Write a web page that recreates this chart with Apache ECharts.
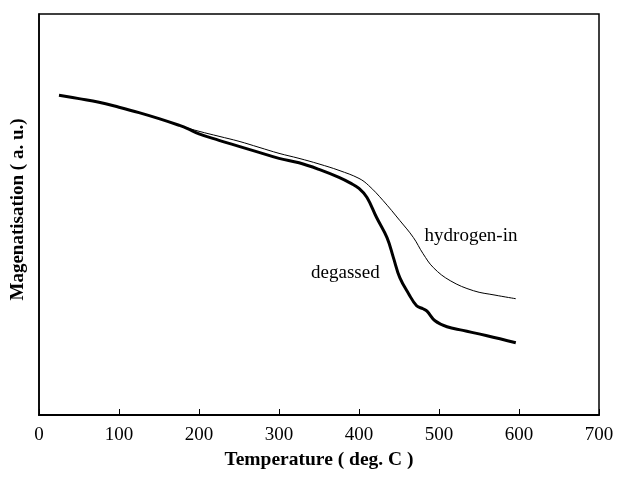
<!DOCTYPE html>
<html>
<head>
<meta charset="utf-8">
<script src="https://cdn.jsdelivr.net/npm/echarts@6/dist/echarts.min.js"></script>
<style>
html,body{margin:0;padding:0;background:#fff;}
#chart{width:617px;height:482px;}
</style>
</head>
<body>
<div id="chart"></div>
<script>
// Temperature (deg. C) and magnetisation (a.u.)
const degassedT = [25,50,75,100,125,150,175,185,200,225,250,275,300,325,350,375,390,400,410,422,435,443,451,462,472,480,485,495,510,530,560,596];
const degassedM = [79.75,78.9,78,76.75,75.4,73.9,72.25,71.5,70.1,68.5,67,65.5,64,62.9,61.25,59.25,57.75,56.5,54.25,49.25,44.25,39.25,34.25,30.25,27.25,26.5,25.9,23.5,22,21.1,19.75,18];
const hydrogenT = [25,50,75,100,125,150,175,180,200,225,250,275,300,325,350,375,400,412,430,451,468,480,493,514,543,570,596];
const hydrogenM = [79.75,78.9,78,76.75,75.4,73.9,72.25,71.9,70.75,69.5,68.25,66.75,65.25,64,62.6,61,59,57.25,53.5,48.5,44.25,40.25,36.75,33.5,31,29.9,29];
const xTicks = [0,100,200,300,400,500,600,700];
const labelTexts = ['hydrogen-in','degassed'];
const labelAt = [[540,44.75],[383,35.5]];

const zip = (a,b) => a.map((v,i)=>[v,b[i]]);
const chart = echarts.init(document.getElementById('chart'), null, {renderer:'canvas'});
const serif = '"Liberation Serif","Times New Roman",serif';
chart.setOption({
  animation:false,
  backgroundColor:'#fff',
  grid:{left:39,right:18,top:14,bottom:67,show:true,borderColor:'#000',borderWidth:1.5,backgroundColor:'transparent'},
  xAxis:{
    type:'value',min:xTicks[0],max:xTicks[xTicks.length-1],interval:100,
    name:'Temperature ( deg. C )',nameLocation:'middle',nameGap:35,
    nameTextStyle:{fontFamily:serif,fontWeight:'bold',fontSize:19.5,color:'#000'},
    axisLine:{show:true,lineStyle:{color:'#000',width:2}},
    axisTick:{show:true,inside:true,length:6,lineStyle:{color:'#000',width:1}},
    axisLabel:{fontFamily:serif,fontSize:19,color:'#000',margin:11},
    splitLine:{show:false}
  },
  yAxis:{
    type:'value',min:0,max:100,
    name:'Magenatisation ( a. u.)',nameLocation:'middle',nameGap:11,
    nameTextStyle:{fontFamily:serif,fontWeight:'bold',fontSize:19,color:'#000',padding:[0,0,0,10]},
    axisLine:{show:true,lineStyle:{color:'#000',width:1.5}},
    axisTick:{show:false},axisLabel:{show:false},splitLine:{show:false}
  },
  series:[
    {type:'line',data:zip(hydrogenT,hydrogenM),showSymbol:false,smooth:0.4,
     lineStyle:{color:'#000',width:1},z:2},
    {type:'line',data:zip(degassedT,degassedM),showSymbol:false,smooth:0.4,
     lineStyle:{color:'#000',width:3},z:3}
  ]
});
const graphics = labelTexts.map((t,i)=>{
  const p = chart.convertToPixel({gridIndex:0}, labelAt[i]);
  return {type:'text',x:p[0],y:p[1],style:{text:t,font:'19px '+serif,fill:'#000',textAlign:'center',textVerticalAlign:'middle'}};
});
chart.setOption({graphic:graphics});
</script>
</body>
</html>
